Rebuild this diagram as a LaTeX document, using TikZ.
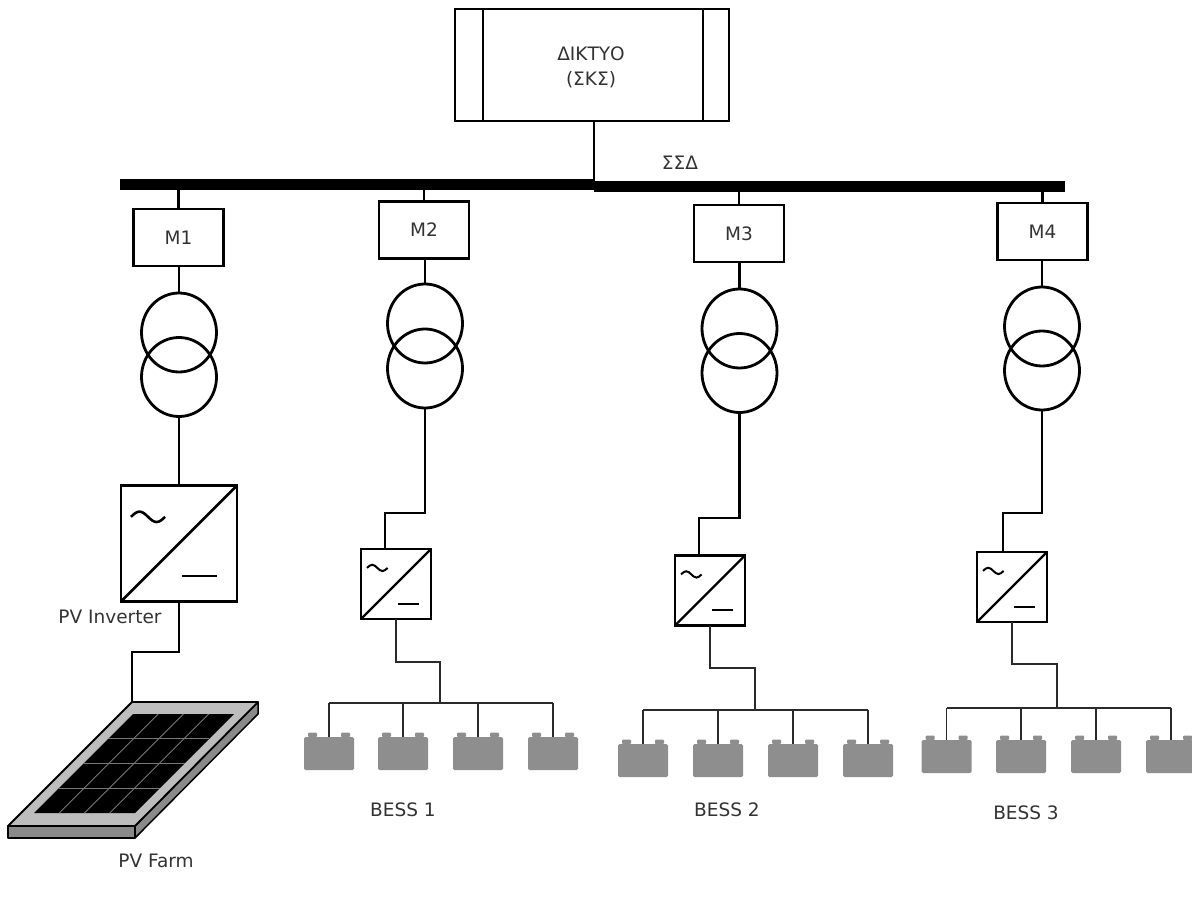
\documentclass[tikz,border=0pt]{standalone}
\usepackage{fontspec}
\setmainfont{DejaVu Sans}
\usetikzlibrary{shapes.geometric}
\definecolor{txt}{HTML}{333333}
\definecolor{batgray}{HTML}{8E8E8E}
\definecolor{framegray}{HTML}{BDBDBD}
\definecolor{sidegray}{HTML}{8A8A8A}
\definecolor{gridgray}{HTML}{777777}
\definecolor{dcline}{HTML}{2A2A2A}

\begin{document}
\begin{tikzpicture}[x=1pt,y=-1pt,
  wire/.style={line width=2.8pt, black},
  dcwire/.style={line width=2pt, dcline},
  battwire/.style={line width=1.7pt, dcline},
  lbl/.style={text=txt, font=\fontsize{18.5}{25}\selectfont, inner sep=0pt, align=center},
  mbox/.style={draw, line width=2.5pt, minimum width=90pt, minimum height=57pt, inner sep=0pt, outer sep=0pt, lbl},
  trafo/.style={draw, ellipse, line width=2.8pt, minimum width=75pt, minimum height=79pt, inner sep=0pt, outer sep=0pt},
  invbox/.style={draw, rectangle, inner sep=0pt, outer sep=0pt, minimum size=#1},
  batt/.style={fill=batgray, rounded corners=1.5pt, minimum width=50pt, minimum height=33pt, inner sep=0pt, outer sep=0pt},
  invsym/.pic={
    \draw (0.086,0.27) sin (0.16,0.225) cos (0.233,0.27) sin (0.307,0.315) cos (0.38,0.27);
    \draw (0.53,0.78) -- (0.83,0.78);
  }
]
% page
\fill[white] (0,0) rectangle (1192,902);
\useasboundingbox (0,0) rectangle (1192,902);

% ---------- grid and busbar ----------
\node[draw, line width=2.8pt, minimum width=274pt, minimum height=112pt, inner sep=0pt, outer sep=0pt] (grid) at (592,65) {};
\draw[wire] ([xshift=28pt]grid.north west) -- ([xshift=28pt]grid.south west);
\draw[wire] ([xshift=-26pt]grid.north east) -- ([xshift=-26pt]grid.south east);
\node[lbl] (gridtxt) at (591,67.5) {ΔΙΚΤΥΟ\\(ΣΚΣ)};

\coordinate (busL) at (120,184);
\coordinate (busM) at (594,184);
\coordinate (busN) at (594,186);
\coordinate (busR) at (1065,186);
\draw[line width=11pt] (busL) -- (busM);
\draw[line width=11pt] (busN) -- (busR);
\draw[wire] ([xshift=2pt]grid.south) -- (busM);
\node[lbl] (ssd) at (680,163) {ΣΣΔ};

% ---------- meters ----------
\node[mbox] (M1) at (178.5,237.5) {M1};
\node[mbox] (M2) at (424,230) {M2};
\node[mbox] (M3) at (739,233.5) {M3};
\node[mbox] (M4) at (1042.5,231.5) {M4};
\foreach \m/\b in {M1/busL, M2/busL, M3/busR, M4/busR}
  \draw[wire] (\m.north |- \b) -- (\m.north);

% ---------- transformers ----------
\node[trafo] (T1a) at (179,332.5) {};
\node[trafo] (T1b) at (179,377) {};
\node[trafo] (T2a) at (425,323.5) {};
\node[trafo] (T2b) at (425,368.5) {};
\node[trafo] (T3a) at (739.5,328.5) {};
\node[trafo] (T3b) at (739.5,373) {};
\node[trafo] (T4a) at (1042,326.5) {};
\node[trafo] (T4b) at (1042,370.5) {};
\foreach \i in {1,2,3,4}
  \draw[wire] (T\i a.north |- M\i.south) -- (T\i a.north);

% ---------- inverters ----------
\node[invbox=116pt, line width=2.8pt] (INV1) at (179,543.5) {};
\node[invbox=70pt, line width=2.2pt] (INV2) at (396,584) {};
\node[invbox=70pt, line width=2.2pt] (INV3) at (710,590.5) {};
\node[invbox=70pt, line width=2.2pt] (INV4) at (1012,587) {};
\draw[line width=2.8pt] (INV1.south west) -- (INV1.north east);
\pic[scale=116, line width=2.6pt] at (INV1.north west) {invsym};
\foreach \i in {2,3,4}{
  \draw[line width=2.2pt] (INV\i.south west) -- (INV\i.north east);
  \pic[scale=70, line width=2pt] at (INV\i.north west) {invsym};
}
\node[lbl] (invlbl) at (110,617) {PV Inverter};

% AC side links
\draw[wire] (T1b.south) -- (INV1.north);
\coordinate (J2) at (385,513);
\coordinate (J3) at (699,518);
\coordinate (J4) at (1003,513);
\foreach \i in {2,3,4}
  \draw[wire] (T\i b.south) |- (J\i) -- (J\i |- INV\i.north);

% ---------- PV field ----------
\coordinate (pvbend) at (132,652);
\coordinate (pvtop) at (132,702);
\draw[wire] (INV1.south) |- (pvbend) -- (pvtop);

\filldraw[fill=sidegray, draw=black, line width=1.5pt, line join=round]
  (8,826) -- (135,826) -- (135,838) -- (8,838) -- cycle;
\filldraw[fill=sidegray, draw=black, line width=1.5pt, line join=round]
  (258,702) -- (258,714) -- (135,838) -- (135,826) -- cycle;
\filldraw[fill=framegray, draw=black, line width=1.8pt, line join=round]
  (pvtop) -- (258,702) -- (135,826) -- (8,826) -- cycle;
\fill[black] (133,714) -- (234,714) -- (135,813) -- (34,813) -- cycle;
\foreach \k in {1,2,3}{
  \draw[gridgray, line width=0.8pt] (133-24.75*\k,714+24.75*\k) -- (234-24.75*\k,714+24.75*\k);
  \draw[gridgray, line width=0.8pt] (133+25.25*\k,714) -- (34+25.25*\k,813);
}
\node[lbl] (pvlbl) at (156,861) {PV Farm};

% ---------- battery banks ----------
\foreach \x [count=\j] in {329,403,478,553}
  \node[batt] (B1\j) at (\x,753.5) {};
\foreach \x [count=\j] in {643,718,793,868}
  \node[batt] (B2\j) at (\x,760.5) {};
\foreach \x [count=\j] in {946.5,1021,1096,1171}
  \node[batt] (B3\j) at (\x,756.5) {};
\foreach \g in {1,2,3}
  \foreach \j in {1,2,3,4}{
    \fill[batgray, rounded corners=1pt] ([xshift=4pt]B\g\j.north west) rectangle ++(9,-4.5);
    \fill[batgray, rounded corners=1pt] ([xshift=-4pt]B\g\j.north east) rectangle ++(-9,-4.5);
  }

\coordinate (K1) at (440,662);
\coordinate (R1) at (440,703);
\coordinate (K2) at (755,668);
\coordinate (R2) at (755,710);
\coordinate (K3) at (1057,664);
\coordinate (R3) at (1057,708);
\foreach \g/\i in {1/2,2/3,3/4}{
  \draw[dcwire] (INV\i.south) |- (K\g) -- (R\g);
  \draw[battwire] (B\g1.north |- R\g) -- (B\g4.north |- R\g);
  \foreach \j in {1,2,3,4}
    \draw[battwire] (B\g\j.north |- R\g) -- (B\g\j.north);
}
\node[lbl] (bess1) at (403,810) {BESS 1};
\node[lbl] (bess2) at (727,810) {BESS 2};
\node[lbl] (bess3) at (1026,813) {BESS 3};
\end{tikzpicture}
\end{document}
